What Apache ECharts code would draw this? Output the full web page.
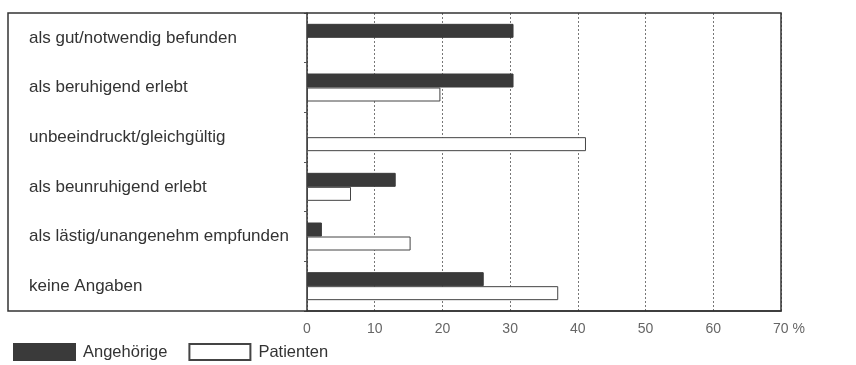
<!DOCTYPE html>
<html><head><meta charset="utf-8">
<script src="https://cdn.jsdelivr.net/npm/echarts@6/dist/echarts.min.js"></script>
<style>html,body{margin:0;padding:0;background:#fff}#c{width:856px;height:365px}</style>
</head><body><div id="c"></div>
<script>
const categories = ["als gut/notwendig befunden","als beruhigend erlebt","unbeeindruckt/gleichgültig","als beunruhigend erlebt","als lästig/unangenehm empfunden","keine Angaben"];
const angehoerige = [30.5, 30.5, 0, 13.1, 2.2, 26.1];
const patienten = [0, 19.7, 41.2, 6.5, 15.3, 37.1];
const seriesNames = ["Angehörige","Patienten"];
const xTicks = [0,10,20,30,40,50,60,70];

const noZero = arr => arr.map(v => v === 0 ? null : v);

const chart = echarts.init(document.getElementById('c'), null, {renderer:'canvas'});
chart.setOption({
  animation:false,
  backgroundColor:'#fff',
  textStyle:{fontFamily:'Liberation Sans, Arial, sans-serif'},
  graphic:[{type:'rect',shape:{x:8,y:13,width:773,height:298},style:{fill:'none',stroke:'#333',lineWidth:1.5},z:10}],
  legend:{left:8,top:338,itemWidth:61,itemHeight:16,itemGap:21,icon:'rect',
    data:seriesNames,
    textStyle:{fontSize:16.5,color:'#333',padding:[0,0,0,3]}},
  grid:{left:307,right:75,top:13,bottom:54,containLabel:false},
  xAxis:{type:'value',min:xTicks[0],max:xTicks[xTicks.length-1],interval:10,
    axisLine:{show:true,lineStyle:{color:'#333',width:1.5}},
    axisTick:{show:false},
    splitLine:{show:true,lineStyle:{color:'#777',type:[2,2],width:1}},
    axisLabel:{color:'#666',fontSize:14,margin:11,
      formatter:function(v){return v===70?'{p|70 %}':String(v);},
      rich:{p:{color:'#666',fontSize:14,padding:[0,0,0,16]}}}},
  yAxis:{type:'category',data:categories,inverse:true,
    axisLine:{show:true,lineStyle:{color:'#333',width:1.5}},
    axisTick:{show:true,length:3,lineStyle:{color:'#555'}},
    axisLabel:{align:'left',margin:278,fontSize:17,color:'#333',padding:[0,0,8,0]}},
  series:[
    {name:seriesNames[0],type:'bar',data:noZero(angehoerige),barWidth:14,barGap:'0%',
      itemStyle:{color:'#3a3a3a',borderColor:'#3a3a3a',borderWidth:1}},
    {name:seriesNames[1],type:'bar',data:noZero(patienten),barWidth:14,barGap:'0%',
      itemStyle:{color:'#fff',borderColor:'#444',borderWidth:1}}
  ]
});
</script></body></html>
